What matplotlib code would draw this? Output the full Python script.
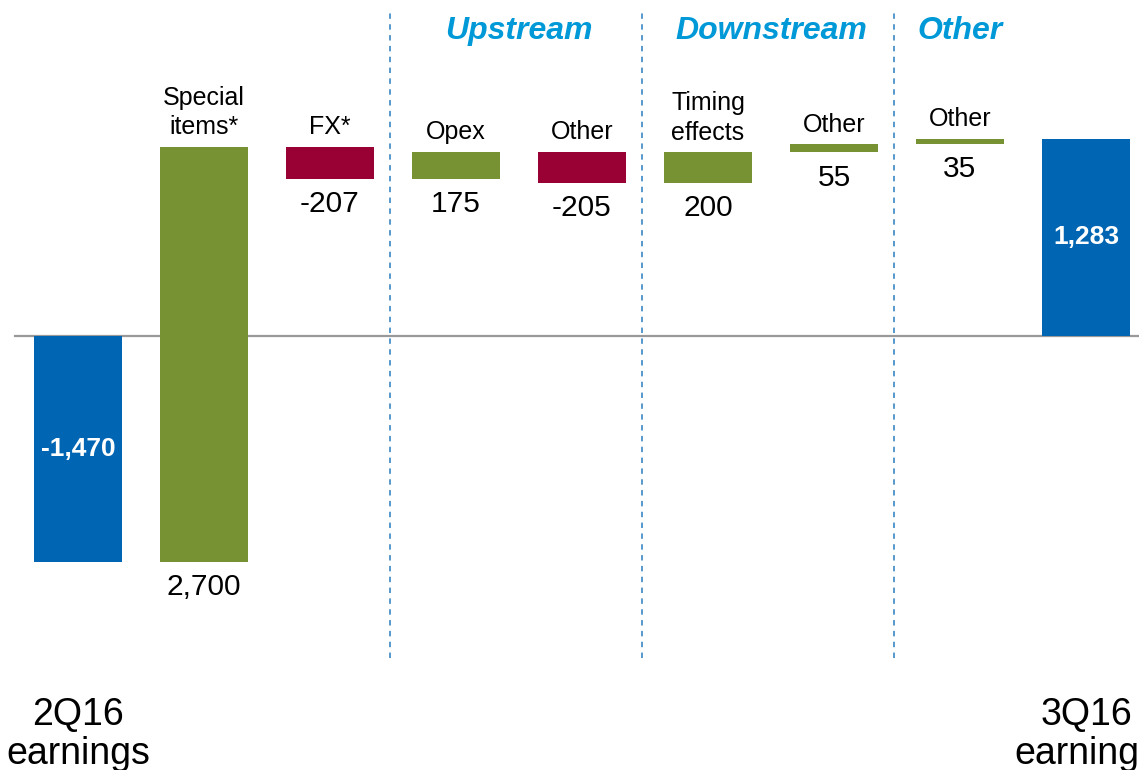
import numpy as np
import matplotlib
matplotlib.use("Agg")
import matplotlib.pyplot as plt

plt.rcParams['font.family'] = ['Liberation Sans', 'DejaVu Sans']

# data
start_label = "2Q16\nearnings"
end_label = "3Q16\nearnings"
start_value = -1470
end_value = 1283
step_labels = ["Special\nitems*", "FX*", "Opex", "Other", "Timing\neffects", "Other", "Other"]
step_values = [2700, -207, 175, -205, 200, 55, 35]
groups = ["Upstream", "Downstream", "Other"]
group_members = [[3, 4], [5, 6], [7]]

BLUE = "#0066B3"
GREEN = "#779232"
RED = "#990033"
HEAD = "#0099D8"

fig = plt.figure(figsize=(11.39, 7.70), dpi=100)
ax = fig.add_axes([0, 0, 1, 1])
ax.set_xlim(-0.619, 8.421)
ax.set_ylim(-2821, 2184)
ax.axis("off")

n = len(step_values)
x = np.arange(n + 2)
cum = start_value + np.concatenate([[0], np.cumsum(step_values)])
bottoms = cum[:-1]
width = 0.7

# zero line
ax.plot([-0.5, 9], [0, 0], color="#999999", lw=1.6, zorder=1)

# start / end bars
for xi, v in [(x[0], start_value), (x[-1], end_value)]:
    ax.bar(xi, v, width=width, color=BLUE, zorder=2)
    ax.text(xi, v / 2, f"{v:,}", color="white", fontsize=19, fontweight="bold",
            ha="center", va="center", zorder=3)

# step bars
for i, (lab, v) in enumerate(zip(step_labels, step_values)):
    xi = x[i + 1]
    b = bottoms[i]
    ax.bar(xi, v, bottom=b, width=width, color=GREEN if v > 0 else RED, zorder=2)
    top = max(b, b + v)
    low = min(b, b + v)
    ax.annotate(lab, (xi, top), xytext=(0, 9), textcoords="offset points",
                ha="center", va="baseline", fontsize=18, linespacing=1.3)
    ax.annotate(f"{v:,}", (xi, low), xytext=(0, -8), textcoords="offset points",
                ha="center", va="top", fontsize=21.5)

# bottom labels
for xi, lab in [(x[0], start_label), (x[-1], end_label)]:
    ax.text(xi, -2345, lab, ha="center", va="top", fontsize=27, linespacing=1.12)

# group separators and headers
for k, (g, mem) in enumerate(zip(groups, group_members)):
    sep = mem[0] - 0.52
    ax.plot([sep, sep], [-2093, 2119], color="#4A90C8", lw=1.3,
            ls=(0, (3, 3)), zorder=1)
    ax.text(np.mean(mem), 1985, g, color=HEAD, fontsize=23, fontweight="bold",
            fontstyle="italic", ha="center", va="center")

fig.savefig("out.png", dpi=100)
